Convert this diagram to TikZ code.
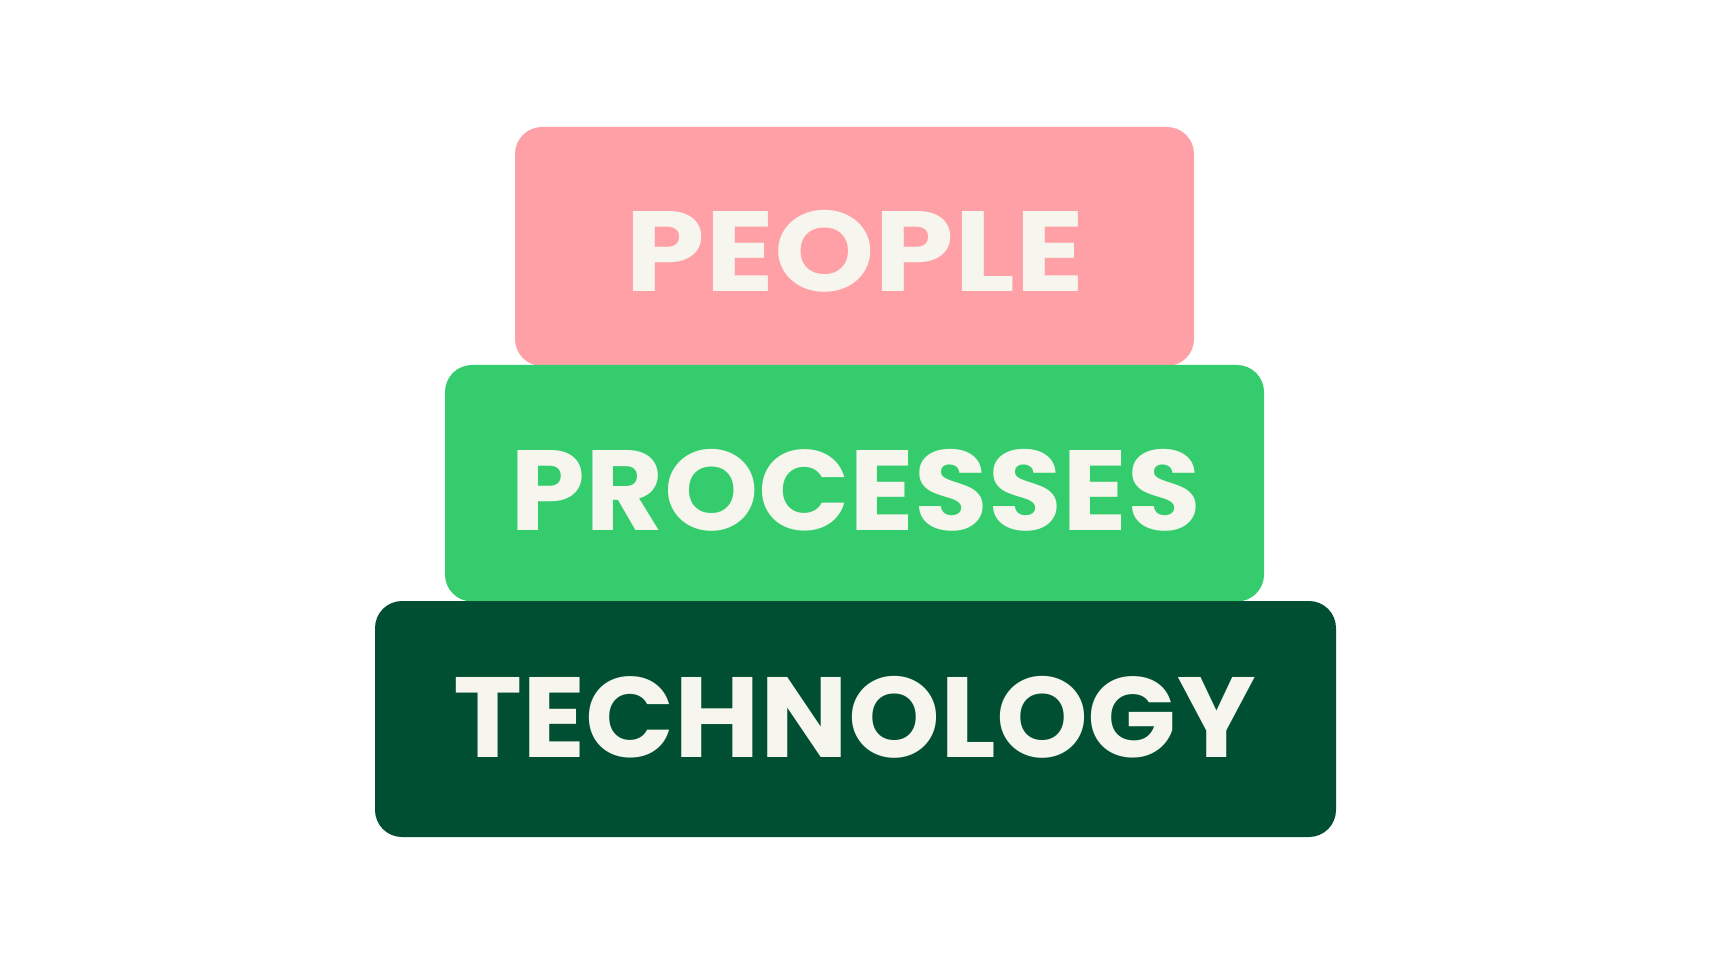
\documentclass[tikz,border=0pt]{standalone}
\usepackage{fontspec}
\usepackage{graphicx}
\setmainfont{Poppins}
\definecolor{pinkbox}{HTML}{FFA0A6}
\definecolor{greenbox}{HTML}{34CC6D}
\definecolor{darkbox}{HTML}{014F32}
\definecolor{cream}{HTML}{F7F6EE}
\tikzset{
  layer/.style={rounded corners=27pt, inner sep=0pt, outer sep=0pt},
  word/.style={anchor=base, inner sep=0pt, outer sep=0pt, text=cream,
    font=\fontsize{114}{114}\selectfont\bfseries}
}
\begin{document}
\begin{tikzpicture}[x=1pt,y=-1pt]
\useasboundingbox (0,0) rectangle (1710,965);
\fill[white] (0,0) rectangle (1710,965);
\fill[pinkbox, layer] (515,127) rectangle (1194,366);
\fill[greenbox, layer] (445,365) rectangle (1264,601.5);
\fill[darkbox, layer] (375,601) rectangle (1336,837);
\node[word] (people) at (855,292) {\resizebox{459pt}{\height}{PEOPLE}};
\node[word] (processes) at (856,530) {\resizebox{690pt}{\height}{PROCESSES}};
\node[word] (technology) at (854.5,757) {\resizebox{802pt}{\height}{TECHNOLOGY}};
\end{tikzpicture}
\end{document}
